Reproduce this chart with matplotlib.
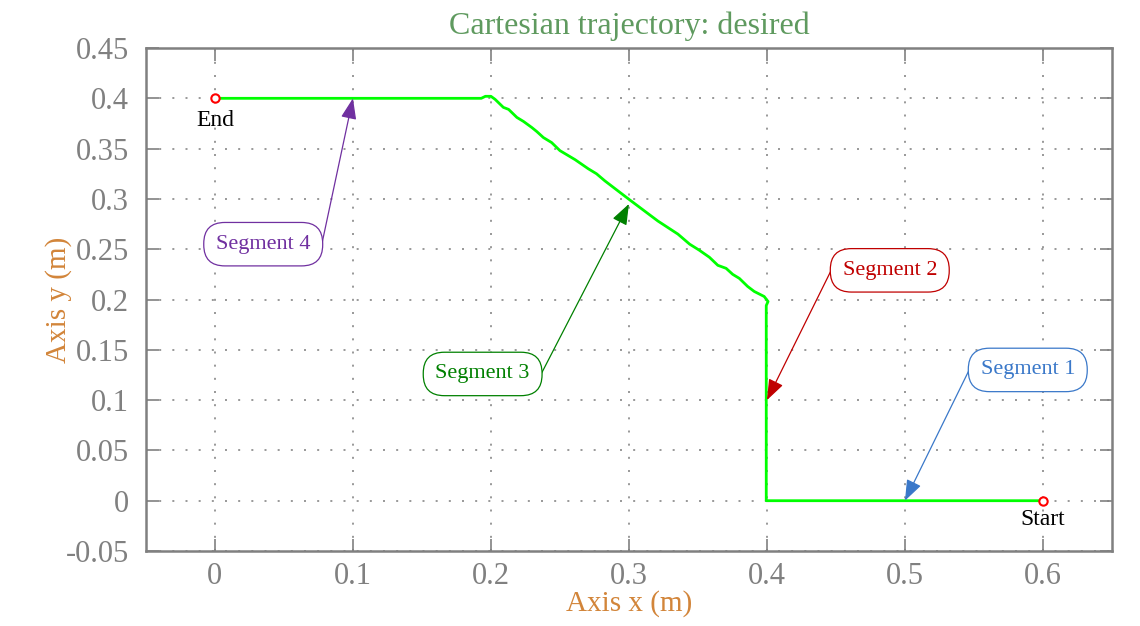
import matplotlib
matplotlib.use('Agg')
import matplotlib.pyplot as plt
import numpy as np

# desired path: start (0.6,0) -> (0.4,0) -> (0.4,0.2) -> diagonal -> (0.2,0.4) -> (0,0.4)
traj_x = [0.6, 0.3995, 0.3995, 0.3995, 0.4008, 0.398, 0.3908, 0.386, 0.380, 0.3752, 0.3704,
          0.3644, 0.3583, 0.351, 0.344, 0.3355, 0.321, 0.3006, 0.2825, 0.2765, 0.2705,
          0.261, 0.250, 0.244, 0.238, 0.2332, 0.2296, 0.2236, 0.2188, 0.2128, 0.209,
          0.203, 0.200, 0.196, 0.193, 0.0]
traj_y = [0.0, 0.0, 0.15, 0.194, 0.198, 0.203, 0.208, 0.213, 0.221, 0.225, 0.231,
          0.234, 0.242, 0.249, 0.255, 0.265, 0.278, 0.299, 0.318, 0.325, 0.330,
          0.339, 0.348, 0.356, 0.361, 0.367, 0.371, 0.377, 0.381, 0.389, 0.391,
          0.399, 0.402, 0.402, 0.400, 0.400]

start_pt = (0.6, 0.0)
end_pt = (0.0, 0.4)

seg_labels = ['Segment 1', 'Segment 2', 'Segment 3', 'Segment 4']
seg_targets = [(0.5, 0.0), (0.4, 0.1), (0.3, 0.295), (0.1, 0.4)]
seg_text_pos = [(0.589, 0.13), (0.489, 0.229), (0.194, 0.126), (0.035, 0.255)]
seg_colors = ['#3a78c9', '#c00000', '#008000', '#7030a0']
seg_relpos = [(-0.12, 0.5), (-0.12, 0.5), (1.12, 0.5), (1.12, 0.5)]

xticks = [0, 0.1, 0.2, 0.3, 0.4, 0.5, 0.6]
yticks = [-0.05, 0, 0.05, 0.1, 0.15, 0.2, 0.25, 0.3, 0.35, 0.4, 0.45]
ytick_labels = ['-0.05', '0', '0.05', '0.1', '0.15', '0.2', '0.25', '0.3', '0.35', '0.4', '0.45']

plt.rcParams['font.family'] = ['Liberation Serif', 'DejaVu Serif']
gray = '#808080'

fig = plt.figure(figsize=(11.4, 6.26), dpi=100)
ax = fig.add_axes([0.128, 0.1198, 0.8474, 0.8035])

ax.plot(traj_x, traj_y, color='#00ff00', linewidth=2.0, zorder=3)
ax.plot(*start_pt, 'o', markersize=6, markerfacecolor='white', markeredgecolor='red',
        markeredgewidth=1.5, zorder=4)
ax.plot(*end_pt, 'o', markersize=6, markerfacecolor='white', markeredgecolor='red',
        markeredgewidth=1.5, zorder=4)
ax.text(end_pt[0], end_pt[1] - 0.022, 'End', ha='center', va='center', fontsize=17)
ax.text(start_pt[0], start_pt[1] - 0.019, 'Start', ha='center', va='center', fontsize=17)

for lab, tgt, pos, col, rp in zip(seg_labels, seg_targets, seg_text_pos, seg_colors, seg_relpos):
    ax.annotate(lab, xy=tgt, xytext=pos, ha='center', va='center', fontsize=16, color=col,
                bbox=dict(boxstyle='round,pad=0.55,rounding_size=0.95', fc='white', ec=col, lw=0.9),
                arrowprops=dict(arrowstyle='-|>,head_length=0.8,head_width=0.3', color=col,
                                lw=0.9, relpos=rp, shrinkA=0, shrinkB=0, patchA=None),
                zorder=5)

ax.set_xlim(-0.05, 0.65)
ax.set_ylim(-0.05, 0.45)
ax.set_xticks(xticks)
ax.set_xticklabels([('%g' % v) for v in xticks])
ax.set_yticks(yticks)
ax.set_yticklabels(ytick_labels)
ax.tick_params(direction='in', length=9, width=1.2, colors=gray, labelsize=22,
               top=True, right=True, pad=12)
ax.tick_params(axis='x', pad=8)
for s in ax.spines.values():
    s.set_color(gray)
    s.set_linewidth(1.8)
ax.grid(True, color='#888888', linestyle=(0, (1.2, 6.7)), linewidth=1.2)

ax.set_title('Cartesian trajectory: desired', color='#5f9a5f', fontsize=23, pad=10)
ax.set_xlabel('Axis x (m)', color='#d2853a', fontsize=21, labelpad=-1)
ax.set_ylabel('Axis y (m)', color='#d2853a', fontsize=21, labelpad=-4)

fig.savefig('out.png', dpi=100)
